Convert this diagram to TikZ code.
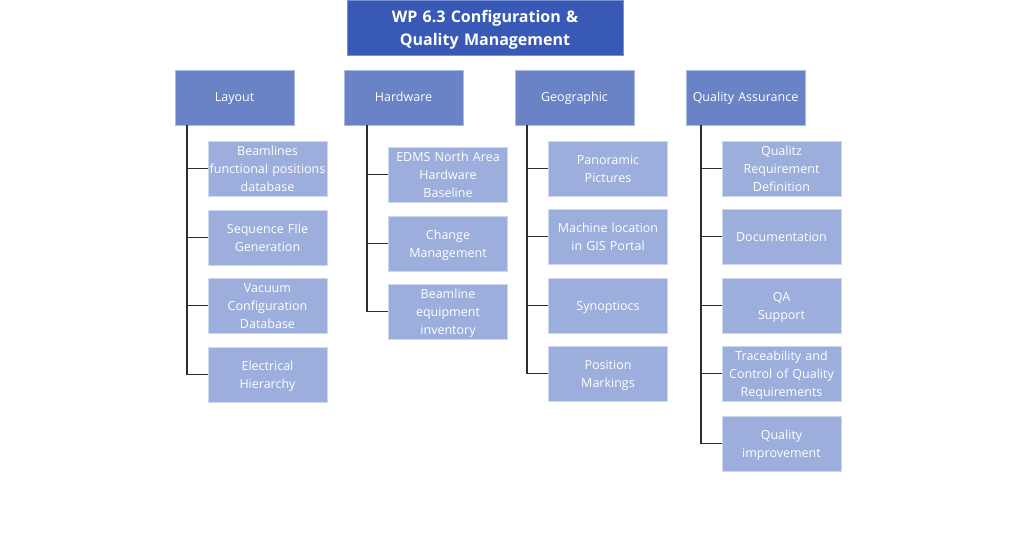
\documentclass[tikz,border=0pt]{standalone}
\usepackage{fontspec}
\setmainfont{Open Sans}
\definecolor{titlefill}{RGB}{56,89,181}
\definecolor{titleline}{RGB}{120,145,210}
\definecolor{lvlfill}{RGB}{106,131,198}
\definecolor{lvlline}{RGB}{170,186,226}
\definecolor{leaffill}{RGB}{155,174,220}
\definecolor{leafline}{RGB}{205,216,240}
\definecolor{connline}{RGB}{45,45,45}
\begin{document}
\begin{tikzpicture}[x=1pt,y=-1pt,
  titlebox/.style={fill=titlefill,draw=titleline,line width=0.8pt,minimum width=276pt,minimum height=55pt,inner sep=0pt,text width=276pt,align=center,text=white,font=\fontsize{16}{23}\selectfont\bfseries,
    execute at begin node={\rule{0pt}{18pt}},execute at end node={\rule[-4.6pt]{0pt}{4.6pt}}},
  lvlbox/.style={fill=lvlfill,draw=lvlline,line width=0.8pt,minimum width=119pt,minimum height=55pt,inner sep=0pt,text width=119pt,align=center,text=white,font=\fontsize{12.5}{17.5}\selectfont,
    execute at begin node={\strut},execute at end node={\strut}},
  leafbox/.style={fill=leaffill,draw=leafline,line width=0.8pt,minimum width=119pt,minimum height=55pt,inner sep=0pt,text width=119pt,align=center,text=white,font=\fontsize{12.5}{18}\selectfont,
    execute at begin node={\rule{0pt}{13.5pt}},execute at end node={\rule[-4.5pt]{0pt}{4.5pt}}},
  conn/.style={draw=connline,line width=1.9pt}]
\fill[white] (0,0) rectangle (1024,551);
\useasboundingbox (0,0) rectangle (1024,551);

\node[titlebox] (title) at (485,27.5) {WP 6.3 Configuration \&\\Quality Management};

\node[lvlbox] (lay) at (234.5,97.5) {Layout};
\node[lvlbox] (hw) at (403.5,97.5) {Hardware};
\node[lvlbox] (geo) at (574.5,97.5) {Geographic};
\node[lvlbox] (qa) at (745.5,97.5) {Quality Assurance};

\coordinate (layv) at (187,125);
\coordinate (hwv) at (367,125);
\coordinate (geov) at (527,125);
\coordinate (qav) at (701,125);

% Layout leaves
\node[leafbox] (l1) at (267.5,168.5) {Beamlines\\functional positions\\database};
\node[leafbox] (l2) at (267.5,237.5) {Sequence FIle\\Generation};
\node[leafbox] (l3) at (267.5,305.5) {Vacuum\\Configuration\\Database};
\node[leafbox] (l4) at (267.5,374.5) {Electrical\\Hierarchy};

% Hardware leaves
\node[leafbox] (h1) at (448,174.5) {EDMS North Area\\Hardware\\Baseline};
\node[leafbox] (h2) at (448,243.5) {Change\\Management};
\node[leafbox] (h3) at (448,311.5) {Beamline\\equipment\\inventory};

% Geographic leaves
\node[leafbox] (g1) at (608,168.5) {Panoramic\\Pictures};
\node[leafbox] (g2) at (608,236.5) {Machine location\\in GIS Portal};
\node[leafbox] (g3) at (608,305.5) {Synoptiocs};
\node[leafbox] (g4) at (608,373.5) {Position\\Markings};

% QA leaves
\node[leafbox] (q1) at (781.5,168.5) {Qualitz\\Requirement\\Definition};
\node[leafbox] (q2) at (781.5,236.5) {Documentation};
\node[leafbox] (q3) at (781.5,305.5) {QA\\Support};
\node[leafbox] (q4) at (781.5,373.5) {Traceability and\\Control of Quality\\Requirements};
\node[leafbox] (q5) at (781.5,443.5) {Quality\\improvement};

\foreach \c/\n in {layv/l1,layv/l2,layv/l3,layv/l4,hwv/h1,hwv/h2,hwv/h3,geov/g1,geov/g2,geov/g3,geov/g4,qav/q1,qav/q2,qav/q3,qav/q4,qav/q5}
  \draw[conn] (\c) |- (\n.west);
\end{tikzpicture}
\end{document}
